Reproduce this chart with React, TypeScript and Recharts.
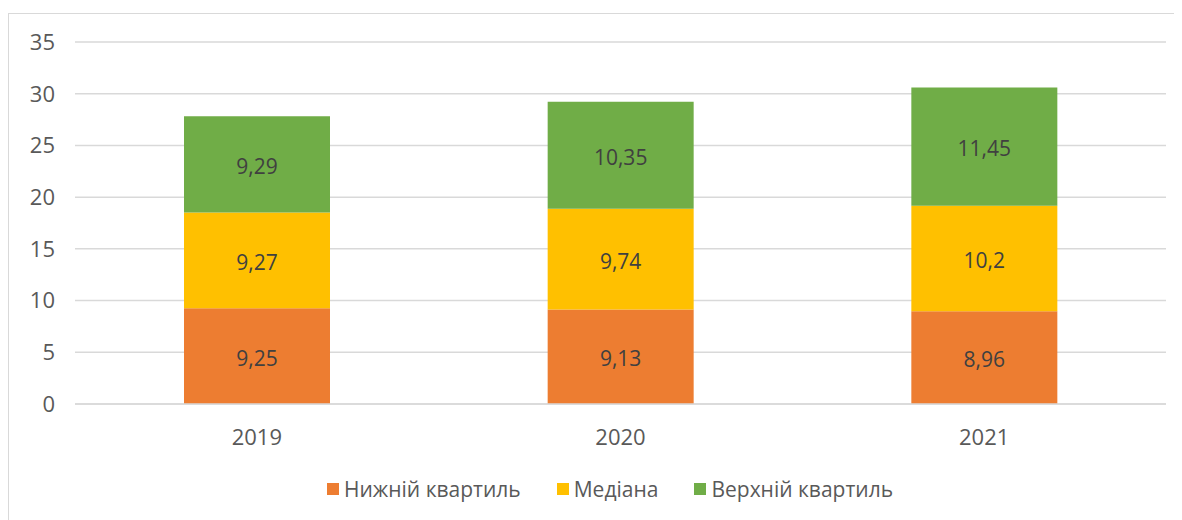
import React from 'react';
import { BarChart, Bar, XAxis, YAxis, CartesianGrid, LabelList } from 'recharts';

const years = ['2019', '2020', '2021'];
const lowerQuartile = [9.25, 9.13, 8.96];
const median = [9.27, 9.74, 10.2];
const upperQuartile = [9.29, 10.35, 11.45];
const yTicks = [0, 5, 10, 15, 20, 25, 30, 35];

const series = [
  { key: 'low', name: 'Нижній квартиль', color: '#ED7D31' },
  { key: 'med', name: 'Медіана', color: '#FFC000' },
  { key: 'up', name: 'Верхній квартиль', color: '#70AD47' },
];

const data = years.map((y, i) => ({
  year: y,
  low: lowerQuartile[i],
  med: median[i],
  up: upperQuartile[i],
}));

const ff = '"Open Sans", "Noto Sans", sans-serif';
const fmt = (v: any) => String(v).replace('.', ',');

export default function App() {
  return (
    <div style={{ position: 'relative', marginTop: 5, width: 1166, height: 520, border: '1px solid #d9d9d9', background: '#fff', fontFamily: ff }}>
      <BarChart width={1164} height={520} data={data} margin={{ top: 28, right: 7, left: 0, bottom: 100 }}>
        <CartesianGrid vertical={false} stroke="#d9d9d9" strokeWidth={1.5} />
        <XAxis dataKey="year" height={30} axisLine={{ stroke: '#d9d9d9', strokeWidth: 1.5 }} tickLine={false} tickSize={0} tickMargin={25}
          tick={{ fill: '#595959', fontSize: 22, fontFamily: ff }} />
        <YAxis width={66} domain={[0, 35]} ticks={yTicks} axisLine={false} tickLine={false} tickSize={0} tickMargin={20}
          tick={{ fill: '#595959', fontSize: 22, fontFamily: ff }} />
        {series.map(s => (
          <Bar key={s.key} dataKey={s.key} name={s.name} stackId="a" fill={s.color} barSize={146} isAnimationActive={false}>
            <LabelList dataKey={s.key} position="center" formatter={fmt} fill="#404040" fontSize={21} fontFamily={ff} dy={2} />
          </Bar>
        ))}
      </BarChart>
      <div style={{ position: 'absolute', left: 318, top: 461, display: 'flex', alignItems: 'center', gap: 36 }}>
        {series.map(s => (
          <div key={s.key} style={{ display: 'flex', alignItems: 'center', gap: 5 }}>
            <div style={{ width: 12, height: 12, background: s.color }} />
            <span style={{ fontSize: 21, color: '#595959' }}>{s.name}</span>
          </div>
        ))}
      </div>
    </div>
  );
}
